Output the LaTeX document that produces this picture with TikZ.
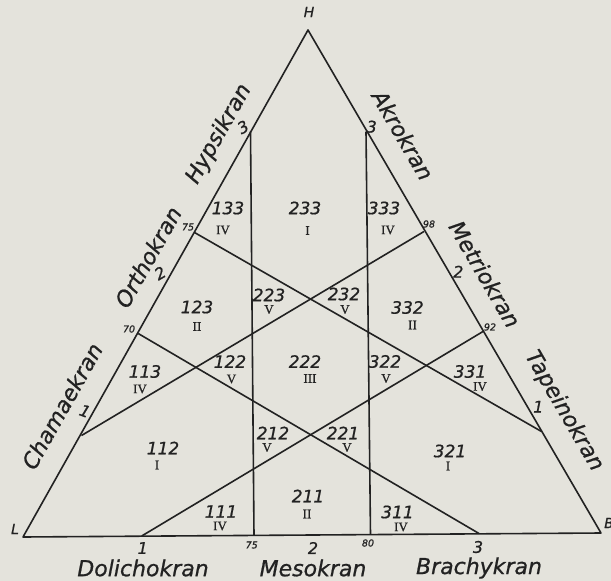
\documentclass[tikz,border=0pt]{standalone}
\usepackage{fontspec}
\newfontfamily\letr{DejaVu Sans}[FakeBold=0.8]
\newfontfamily\romf{Liberation Serif}[FakeBold=0.6]
\definecolor{ink}{HTML}{222222}
\definecolor{paper}{HTML}{E4E3DC}
\begin{document}
\begin{tikzpicture}[x=1pt,y=-1pt,
  edge/.style={line width=1.6pt, draw=ink, line join=round},
  reg/.style={inner sep=0pt, text=ink, font=\letr\itshape\fontsize{17}{17}\selectfont},
  num/.style={inner sep=0pt, text=ink, font=\romf\fontsize{13}{13}\selectfont},
  tick/.style={inner sep=0pt, text=ink, font=\letr\itshape\fontsize{16}{16}\selectfont},
  small/.style={inner sep=0pt, text=ink, font=\letr\itshape\fontsize{9.5}{9.5}\selectfont},
  word/.style={inner sep=0pt, text=ink, font=\letr\itshape\fontsize{22}{22}\selectfont},
  corner/.style={inner sep=0pt, text=ink, font=\letr\itshape\fontsize{14}{14}\selectfont}]
\useasboundingbox (0,0) rectangle (611,581);
\fill[paper] (0,0) rectangle (611,581);

% corners
\coordinate (L) at (23,537);
\coordinate (B) at (601,533);
\coordinate (H) at (308,30);
% points on sides
\coordinate (l1) at (81.5,435.5);
\coordinate (l70) at (138.2,333.5);
\coordinate (l75) at (194.5,232.5);
\coordinate (l3) at (250.5,131.5);
\coordinate (r3) at (366,131.5);
\coordinate (r98) at (424,231.5);
\coordinate (r92) at (483,331.5);
\coordinate (r1) at (541.5,431.5);
\coordinate (b1) at (141.7,536);
\coordinate (b75) at (254,535.5);
\coordinate (b80) at (370.5,534.5);
\coordinate (b3) at (479,533.5);

\draw[edge] (L) -- (B) -- (H) -- cycle;
\draw[edge] (l3) -- (b75);
\draw[edge] (r3) -- (b80);
\draw[edge] (l75) -- (r1);
\draw[edge] (r98) -- (l1);
\draw[edge] (l70) -- (b3);
\draw[edge] (r92) -- (b1);

% corner letters
\node[corner] (tL) at (15,529) {L};
\node[corner] (tB) at (609,523) {B};
\node[corner] (tH) at (309,12) {H};

% region labels
\node[reg] (n133) at (228,208) {133}; \node[num] (m133) at (223,230) {IV};
\node[reg] (n233) at (305,208) {233}; \node[num] (m233) at (307.5,230.5) {I};
\node[reg] (n333) at (384,208) {333}; \node[num] (m333) at (388,230) {IV};
\node[reg] (n123) at (197,307) {123}; \node[num] (m123) at (197,326.5) {II};
\node[reg] (n223) at (269,295) {223}; \node[num] (m223) at (269,309.5) {V};
\node[reg] (n232) at (344,294) {232}; \node[num] (m232) at (345,309.5) {V};
\node[reg] (n332) at (407.5,307.5) {332}; \node[num] (m332) at (412.5,325) {II};
\node[reg] (n113) at (145,371.5) {113}; \node[num] (m113) at (140,389) {IV};
\node[reg] (n122) at (230,361.5) {122}; \node[num] (m122) at (231.5,379) {V};
\node[reg] (n222) at (305,361.5) {222}; \node[num] (m222) at (310,378.5) {III};
\node[reg] (n322) at (385,361.5) {322}; \node[num] (m322) at (386,378.5) {V};
\node[reg] (n331) at (470,371.5) {331}; \node[num] (m331) at (480,386.5) {IV};
\node[reg] (n112) at (163,448) {112}; \node[num] (m112) at (157,465) {I};
\node[reg] (n212) at (273,433) {212}; \node[num] (m212) at (267,447.5) {V};
\node[reg] (n221) at (343,433) {221}; \node[num] (m221) at (347,447.5) {V};
\node[reg] (n321) at (450,451) {321}; \node[num] (m321) at (448,466) {I};
\node[reg] (n211) at (308,496) {211}; \node[num] (m211) at (307,514) {II};
\node[reg] (n111) at (221,511.5) {111}; \node[num] (m111) at (220,526) {IV};
\node[reg] (n311) at (397.5,512) {311}; \node[num] (m311) at (401,527) {IV};

% base ticks and words
\node[tick] (tb1) at (142.7,548) {1};
\node[small] (tb75) at (251.7,545) {75};
\node[tick] (tb2) at (313,548) {2};
\node[small] (tb80) at (368,543) {80};
\node[tick] (tb3) at (478,547) {3};
\node[word] (wD) at (143,568) {Dolichokran};
\node[word] (wM) at (313,568) {Mesokran};
\node[word] (wBr) at (479,568) {Brachykran};

% left side
\node[tick, rotate=-20] (tl1) at (85,411) {1};
\node[small] (tl70) at (129,329) {70};
\node[tick, rotate=30] (tl2) at (160,273) {2};
\node[small] (tl75) at (188,227) {75};
\node[tick, rotate=30] (tl3) at (243,127) {3};
\node[word, rotate=60.6] (wC) at (62,406) {Chamaekran};
\node[word, rotate=60.6] (wO) at (148,257) {Orthokran};
\node[word, rotate=60.6] (wHy) at (219,134) {Hypsikran};

% right side
\node[tick] (tr3) at (371.7,126.7) {3};
\node[small] (tr98) at (429,224) {98};
\node[tick] (tr2) at (458.3,271.7) {2};
\node[small] (tr92) at (490,327) {92};
\node[tick] (tr1) at (538.3,406.7) {1};
\node[word, rotate=-59.8] (wA) at (403,135) {Akrokran};
\node[word, rotate=-59.8] (wMe) at (485,274) {Metriokran};
\node[word, rotate=-59.8] (wT) at (564,411) {Tapeinokran};
\end{tikzpicture}
\end{document}
